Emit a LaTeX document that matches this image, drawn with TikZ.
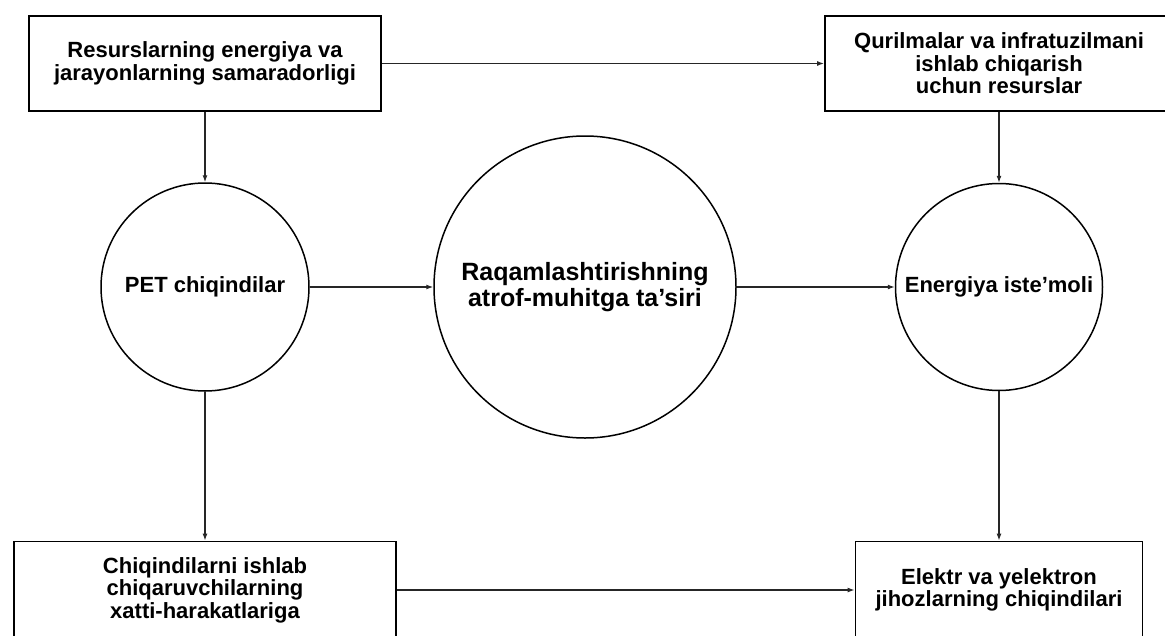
\documentclass[tikz,border=0pt]{standalone}
\usepackage{fontspec}
\setmainfont{Liberation Sans}
\usetikzlibrary{arrows.meta}

\begin{document}
\begin{tikzpicture}[
        x=1pt, y=-1pt,
        box/.style={rectangle, draw=black, line width=1.8pt, fill=white, align=center, font=\fontsize{22}{22.5}\selectfont\bfseries},
        circ/.style={circle, draw=black, line width=1.5pt, fill=white, align=center, inner sep=0pt, font=\fontsize{22}{22.5}\selectfont\bfseries},
        bigcirc/.style={circ, font=\fontsize{25}{26.5}\selectfont\bfseries},
        flow/.style={-{Latex[length=7pt, width=5pt]}, line width=1.2pt, color=black!85}
    ]
    \useasboundingbox (0,0) rectangle (1165,635);
    \clip (0,0) rectangle (1165,635);

    % Boxes
    \node[box, minimum width=352, minimum height=95] (resurs) at (205, 63.5) {Resurslarning energiya va\\ jarayonlarning samaradorligi};
    \node[box, minimum width=348, minimum height=95] (qurilma) at (999, 63.5) {Qurilmalar va infratuzilmani\\ ishlab chiqarish\\ uchun resurslar};
    \node[box, minimum width=382, minimum height=97] (chiqind) at (205, 590) {Chiqindilarni ishlab\\ chiqaruvchilarning\\ xatti-harakatlariga};
    \node[box, minimum width=287, minimum height=97] (elektr) at (999, 590) {Elektr va yelektron\\ jihozlarning chiqindilari};

    % Circles
    \node[circ, minimum size=208] (pet) at (205, 287) {PET chiqindilar};
    \node[bigcirc, minimum size=302] (raqam) at (585, 287) {Raqamlashtirishning\\ atrof-muhitga ta'siri};
    \node[circ, minimum size=207] (energiya) at (999, 287) {Energiya iste'moli};

    % Flows
    \draw[flow] (resurs) -- (qurilma);
    \draw[flow] (resurs) -- (pet);
    \draw[flow] (qurilma) -- (energiya);
    \draw[flow] (pet) -- (raqam);
    \draw[flow] (raqam) -- (energiya);
    \draw[flow] (pet) -- (chiqind);
    \draw[flow] (energiya) -- (elektr);
    \draw[flow] (chiqind) -- (elektr);

\end{tikzpicture}
\end{document}
